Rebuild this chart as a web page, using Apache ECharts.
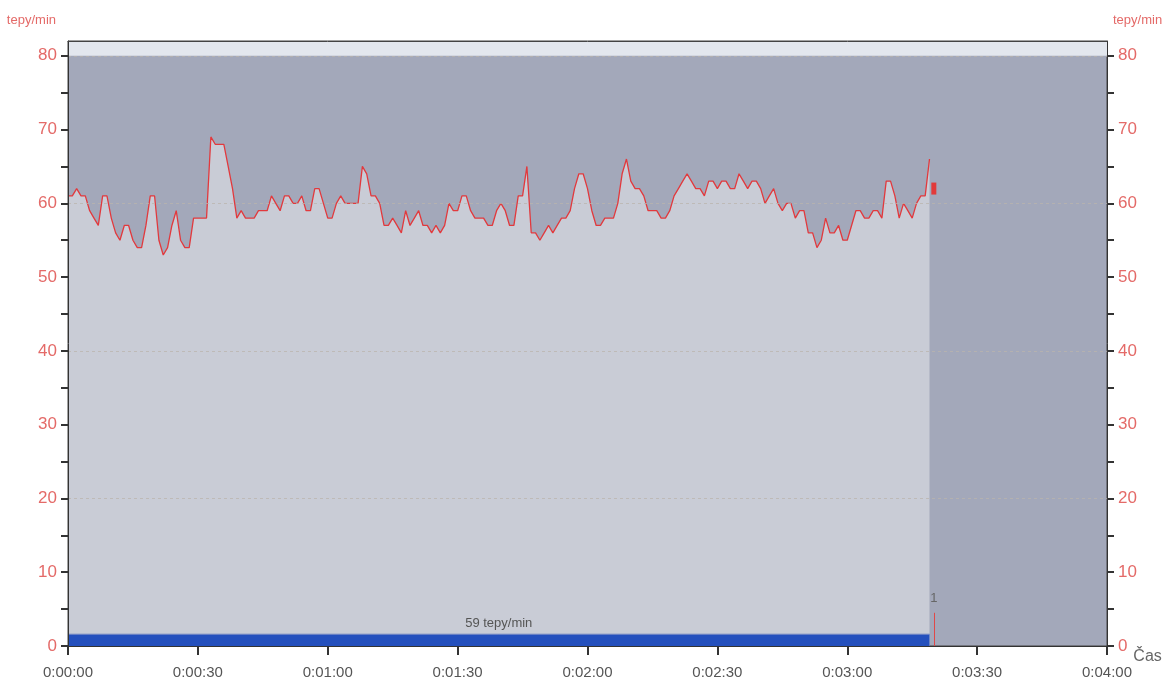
<!DOCTYPE html>
<html>
<head>
<meta charset="utf-8">
<title>tepy/min</title>
<script src="https://cdn.jsdelivr.net/npm/echarts@6/dist/echarts.min.js"></script>
<style>
  html, body { margin: 0; padding: 0; background: #fff; }
  #main { width: 1164px; height: 686px; }
</style>
</head>
<body>
<div id="main"></div>
<script>
// tep po sekundach (0 .. 199 s)
var tepy = [
  61, 61, 62, 61, 61, 59, 58, 57, 61, 61,
  58, 56, 55, 57, 57, 55, 54, 54, 57, 61,
  61, 55, 53, 54, 57, 59, 55, 54, 54, 58,
  58, 58, 58, 69, 68, 68, 68, 65, 62, 58,
  59, 58, 58, 58, 59, 59, 59, 61, 60, 59,
  61, 61, 60, 60, 61, 59, 59, 62, 62, 60,
  58, 58, 60, 61, 60, 60, 60, 60, 65, 64,
  61, 61, 60, 57, 57, 58, 57, 56, 59, 57,
  58, 59, 57, 57, 56, 57, 56, 57, 60, 59,
  59, 61, 61, 59, 58, 58, 58, 57, 57, 59,
  60, 59, 57, 57, 61, 61, 65, 56, 56, 55,
  56, 57, 56, 57, 58, 58, 59, 62, 64, 64,
  62, 59, 57, 57, 58, 58, 58, 60, 64, 66,
  63, 62, 62, 61, 59, 59, 59, 58, 58, 59,
  61, 62, 63, 64, 63, 62, 62, 61, 63, 63,
  62, 63, 63, 62, 62, 64, 63, 62, 63, 63,
  62, 60, 61, 62, 60, 59, 60, 60, 58, 59,
  59, 56, 56, 54, 55, 58, 56, 56, 57, 55,
  55, 57, 59, 59, 58, 58, 59, 59, 58, 63,
  63, 61, 58, 60, 59, 58, 60, 61, 61, 66
];
var xTicks = [0, 30, 60, 90, 120, 150, 180, 210, 240];
var xTickLabels = ['0:00:00', '0:00:30', '0:01:00', '0:01:30', '0:02:00', '0:02:30', '0:03:00', '0:03:30', '0:04:00'];
var yLabels = [0, 10, 20, 30, 40, 50, 60, 70, 80];
var yTicks = [0, 5, 10, 15, 20, 25, 30, 35, 40, 45, 50, 55, 60, 65, 70, 75, 80];
var gridLines = [20, 40, 60, 80];
var prumer = 59;                      // 59 tepy/min
var prumerPas = [[0, 1.6], [199, 1.6]]; // modry pas pod grafem
var prumerStred = [99.5, 1.6];
var znacka = [200, 62];   // cervena znacka za koncem
var udalost = [200, 4.5]; // udalost "1"

var font = "'Liberation Sans', Arial, sans-serif";

var chart = echarts.init(document.getElementById('main'));

var data = tepy.map(function (v, i) { return [i, v]; });

function yAxisDef(pos) {
  return {
    type: 'value',
    position: pos,
    z: 10,
    min: 0,
    max: 82,
    interval: 10,
    name: 'tepy/min',
    nameLocation: 'end',
    nameGap: 14,
    nameTextStyle: {
      color: '#e46a68',
      fontFamily: font,
      fontSize: 13,
      align: pos == 'left' ? 'right' : 'left',
      padding: pos == 'left' ? [0, 12, 0, 0] : [0, 0, 0, 6]
    },
    axisLine: { show: true, onZero: false, lineStyle: { color: '#333', width: 1 } },
    axisTick: { show: true, length: 7, customValues: yTicks, lineStyle: { color: '#333', width: 2 } },
    axisLabel: {
      customValues: yLabels,
      color: '#e46a68',
      fontFamily: font,
      fontSize: 17,
      margin: 11
    },
    splitLine: { show: false }
  };
}

var option = {
  animation: false,
  grid: {
    left: 68,
    right: 57,
    top: 41,
    bottom: 40,
    outerBoundsMode: 'none',
    show: true,
    backgroundColor: '#a3a8ba',
    borderColor: '#444',
    borderWidth: 1
  },
  xAxis: [
    {
      type: 'value',
      z: 10,
      min: 0,
      max: 240,
      interval: 30,
      name: 'Čas',
      nameLocation: 'end',
      nameGap: 4,
      nameTextStyle: {
        color: '#666',
        fontFamily: font,
        fontSize: 16,
        align: 'left',
        verticalAlign: 'top',
        padding: [3, 0, 0, 0]
      },
      axisLine: { show: true, onZero: false, lineStyle: { color: '#333', width: 1 } },
      axisTick: { show: true, length: 9, lineStyle: { color: '#333', width: 2 } },
      axisLabel: {
        color: '#555',
        fontFamily: font,
        fontSize: 15,
        margin: 19,
        formatter: function (v) {
          var i = xTicks.indexOf(v);
          return i >= 0 ? xTickLabels[i] : '';
        }
      },
      splitLine: { show: false }
    },
    {
      // horni okraj ramecku
      type: 'value',
      position: 'top',
      z: 10,
      min: 0,
      max: 240,
      axisLine: { show: true, onZero: false, lineStyle: { color: '#444', width: 1 } },
      axisTick: { show: false },
      axisLabel: { show: false },
      splitLine: { show: false }
    }
  ],
  yAxis: [yAxisDef('left'), yAxisDef('right')],
  series: [
    {
      type: 'line',
      data: data,
      symbol: 'none',
      z: 3,
      lineStyle: { color: '#e2393d', width: 1.3 },
      areaStyle: { color: '#c9ccd6', opacity: 1 },
      markArea: {
        silent: true,
        data: [
          // svetly pruh nad 80
          [{ yAxis: 80, itemStyle: { color: '#e3e7ee' } }, { yAxis: 82 }]
        ]
      },
      markLine: {
        silent: true,
        symbol: 'none',
        label: { show: false },
        lineStyle: { color: 'rgba(185,180,172,0.75)', type: [3, 3], width: 1 },
        data: gridLines.map(function (v) { return { yAxis: v }; })
      }
    },
    {
      // prumerna tepova frekvence
      type: 'line',
      data: prumerPas,
      symbol: 'none',
      z: 6,
      silent: true,
      lineStyle: { color: '#7489c6', width: 1 },
      areaStyle: { color: '#2450bd', opacity: 1 },
      markPoint: {
        silent: true,
        symbol: 'circle',
        symbolSize: 0,
        label: {
          show: true,
          position: 'top',
          distance: 4,
          formatter: prumer + ' tepy/min',
          color: '#555',
          fontFamily: font,
          fontSize: 13
        },
        data: [{ coord: prumerStred }]
      }
    },
    {
      type: 'scatter',
      data: [znacka],
      symbol: 'rect',
      symbolSize: [5, 12],
      z: 7,
      itemStyle: { color: '#e23a3a', opacity: 1 },
      markLine: {
        silent: true,
        symbol: 'none',
        lineStyle: { color: '#e04848', type: 'solid', width: 1 },
        label: {
          show: true,
          position: 'end',
          formatter: '1',
          color: '#666',
          fontFamily: font,
          fontSize: 13,
          distance: 8
        },
        data: [[{ coord: [udalost[0], 0] }, { coord: udalost }]]
      }
    }
  ]
};

chart.setOption(option);
</script>
</body>
</html>
